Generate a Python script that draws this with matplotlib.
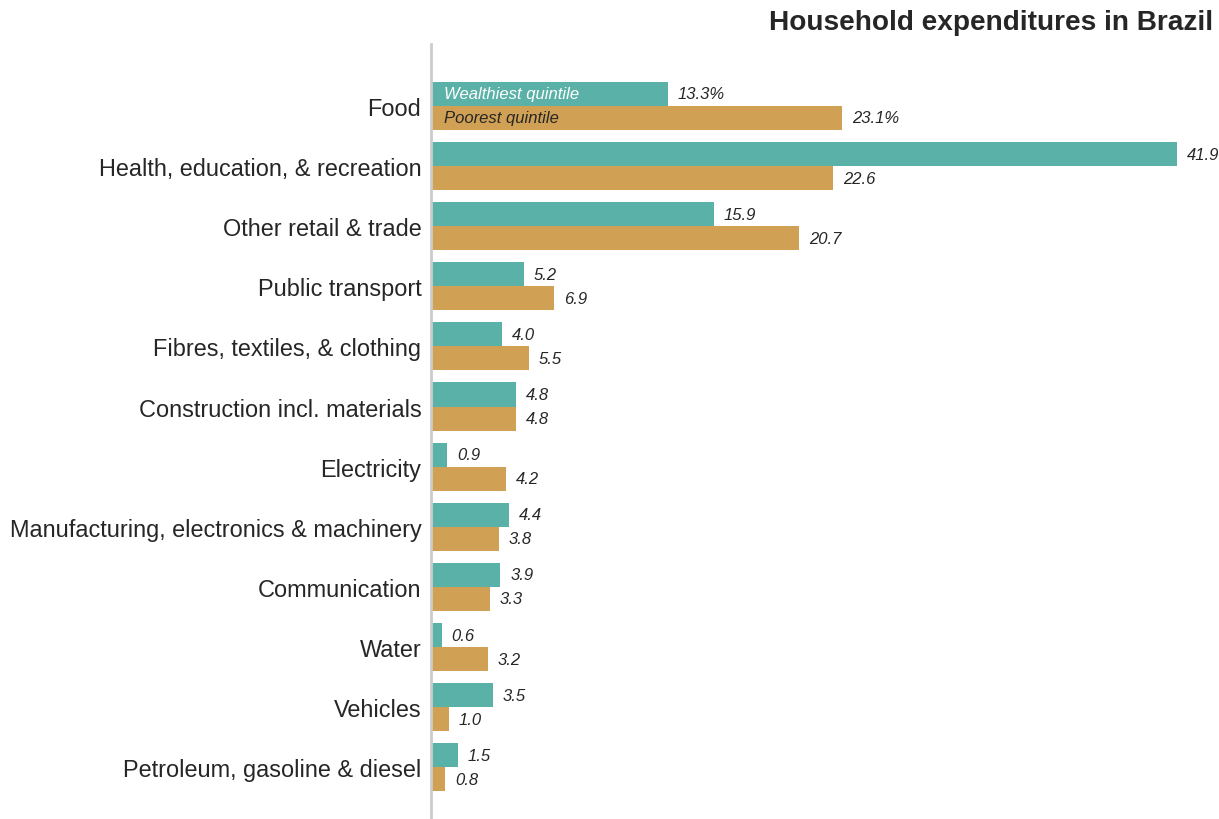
import matplotlib
matplotlib.use("Agg")
import matplotlib.pyplot as plt
import numpy as np

plt.rcParams['font.family'] = ['Liberation Sans', 'DejaVu Sans']

categories = ["Food", "Health, education, & recreation", "Other retail & trade",
              "Public transport", "Fibres, textiles, & clothing",
              "Construction incl. materials", "Electricity",
              "Manufacturing, electronics & machinery", "Communication",
              "Water", "Vehicles", "Petroleum, gasoline & diesel"]
wealthiest = [13.3, 41.9, 15.9, 5.2, 4.0, 4.8, 0.9, 4.4, 3.9, 0.6, 3.5, 1.5]
poorest = [23.1, 22.6, 20.7, 6.9, 5.5, 4.8, 4.2, 3.8, 3.3, 3.2, 1.0, 0.8]
series_names = ["Wealthiest quintile", "Poorest quintile"]

teal = "#5AB1A7"
gold = "#D0A154"
dark = "#262626"

W, H = 1219, 820
fig = plt.figure(figsize=(W / 100, H / 100), dpi=100)
ax = fig.add_axes([431 / W, 0, (1214 - 431) / W, (820 - 45) / H])

y = np.arange(len(categories))
bh = 0.4
ax.barh(y - bh / 2, wealthiest, height=bh, color=teal, align='center')
ax.barh(y + bh / 2, poorest, height=bh, color=gold, align='center')

ax.set_xlim(0, 44)
ax.set_ylim(11.86, -1.03)
ax.set_yticks(y)
ax.set_yticklabels(categories, fontsize=16.9, color=dark)
ax.tick_params(axis='y', length=0, pad=7)
ax.set_xticks([])
for s in ['top', 'right', 'bottom']:
    ax.spines[s].set_visible(False)
ax.spines['left'].set_color('#cccccc')
ax.spines['left'].set_linewidth(2)

off = 0.55
for i, (w, p) in enumerate(zip(wealthiest, poorest)):
    sfx = "%" if i == 0 else ""
    ax.text(w + off, i - bh / 2, f"{w:.1f}{sfx}", va='center', ha='left',
            fontsize=12, style='italic', color=dark)
    ax.text(p + off, i + bh / 2, f"{p:.1f}{sfx}", va='center', ha='left',
            fontsize=12, style='italic', color=dark)

ax.text(0.75, -bh / 2, series_names[0], va='center', ha='left',
        fontsize=12, style='italic', color='white')
ax.text(0.75, bh / 2, series_names[1], va='center', ha='left',
        fontsize=12, style='italic', color=dark)

fig.text(1213 / W, 1 - 23 / H, "Household expenditures in Brazil", ha='right',
         va='center', fontsize=20.2, fontweight='bold', color=dark)

fig.savefig("out.png", dpi=100)
